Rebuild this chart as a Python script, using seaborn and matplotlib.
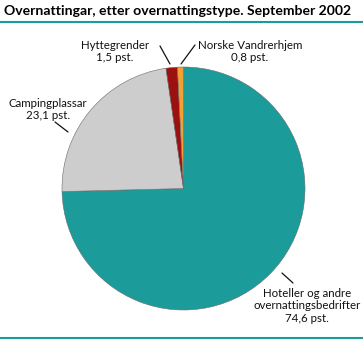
import matplotlib
matplotlib.use("Agg")
import matplotlib.pyplot as plt
import seaborn as sns

sns.set_theme(style="white")
plt.rcParams["font.family"] = ["Lato", "DejaVu Sans"]

# Data: share of overnight stays by type of accommodation, September 2002
categories = ["Hoteller og andre\novernattingsbedrifter", "Campingplassar",
              "Hyttegrender", "Norske Vandrerhjem"]
shares = [74.6, 23.1, 1.5, 0.8]
value_labels = ["74,6 pst.", "23,1 pst.", "1,5 pst.", "0,8 pst."]
colors = ["#1b9c9b", "#cdcdcd", "#9c1010", "#f2a033"]

W, H = 363, 341
fig = plt.figure(figsize=(W / 100, H / 100), dpi=100)
ax = fig.add_axes([0, 0, 1, 1])
ax.set_xlim(0, W)
ax.set_ylim(0, H)
ax.set_aspect("equal")
ax.axis("off")

def py(y):
    return H - y

cx, cy, r = 183.5, 188.5, 121.5
ax.pie(shares, colors=colors, startangle=90, counterclock=False,
       center=(cx, py(cy)), radius=r,
       wedgeprops=dict(edgecolor="#6a6a6a", linewidth=0.4))
ax.set_xlim(0, W)
ax.set_ylim(0, H)

# Title and rules
fig.text(4 / W, 1 - 11 / H, "Overnattingar, etter overnattingstype. September 2002",
         fontsize=10.05, fontweight="bold", va="center", ha="left", color="#000000")
ax.plot([0, W], [py(22), py(22)], color="#1b9c9b", lw=1.5, solid_capstyle="butt")
ax.plot([0, W], [py(338), py(338)], color="#1b9c9b", lw=1.5, solid_capstyle="butt")

# Labels with leader lines
fs = 8.3
label_spec = [
    # text position (x, y top), leader line start/end
    (307, 288, (282, 273), (293, 283)),
    (48, 98, (55, 122), (68, 132)),
    (115, 40, (160, 46), (170, 64)),
    (250, 40, (195, 45), (181, 64)),
]
for cat, val, (tx, ty, p0, p1) in zip(categories, value_labels, label_spec):
    ax.text(tx, py(ty), f"{cat}\n{val}", ha="center", va="top",
            fontsize=fs, linespacing=1.15, color="#111111")
    ax.plot([p0[0], p1[0]], [py(p0[1]), py(p1[1])], color="#111111", lw=0.9)

fig.savefig("out.png", dpi=100)
